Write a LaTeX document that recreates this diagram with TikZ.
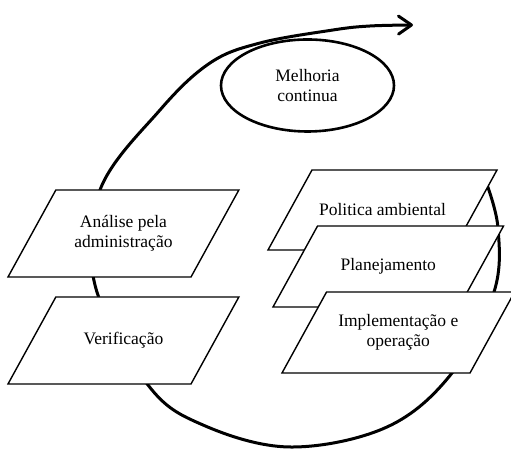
\documentclass[tikz,border=0pt]{standalone}
\usepackage{fontspec}
\setmainfont{Liberation Serif}
\usetikzlibrary{calc,arrows.meta}
\tikzset{
  caixa/.style={draw, line width=1.4pt, fill=white, line join=miter},
  texto/.style={align=center, inner sep=0pt},
  ciclo/.style={line width=3pt, line cap=round}
}
% #1 name, #2 lower left corner, #3 base, #4 height, #5 text
\newcommand{\etapa}[5]{%
  \coordinate (#1-sw) at #2;
  \filldraw[caixa] (#1-sw) -- ++(#3,0) -- ++(0.55*#4,#4) -- ++(-#3,0) -- cycle;
  \node[texto] (#1) at ($(#1-sw)+(0.5*#3+0.275*#4,0.5*#4)$) {#5};
}
\begin{document}
\begin{tikzpicture}[x=1pt,y=1pt,font=\fontsize{17.5}{20.5}\selectfont]
	\useasboundingbox (0,0) rectangle (511,449);
	% the cycle and its way out
	\draw[ciclo,-{Straight Barb[length=13pt,width=18pt,line width=3pt,round]}]
		plot[smooth,tension=0.6] coordinates {(486,267) (498,221) (494,157) (452,76) (387,22) (290,2) (203,24) (148,64) (95,164) (100,259) (160,339) (210,386) (260,406) (333,419) (370,423) (413,424)};
	\coordinate (melhoria-c) at (307.5,363.5);
	\filldraw[line width=2.6pt, fill=white] (melhoria-c) ellipse [x radius=86.5, y radius=46];
	\node[texto] (melhoria) at (melhoria-c) {Melhoria\\continua};
	% left side
	\etapa{analise}{(8,172)}{183}{87}{Análise pela\\administração}
	\etapa{verif}{(8,65)}{183}{87}{Verificação}
	% right side
	\etapa{politica}{(268,199)}{185}{80}{Politica ambiental}
	\etapa{planej}{(273,142)}{186}{81}{Planejamento}
	\etapa{implem}{(282,76)}{188}{81}{Implementação e\\operação}
\end{tikzpicture}
\end{document}
